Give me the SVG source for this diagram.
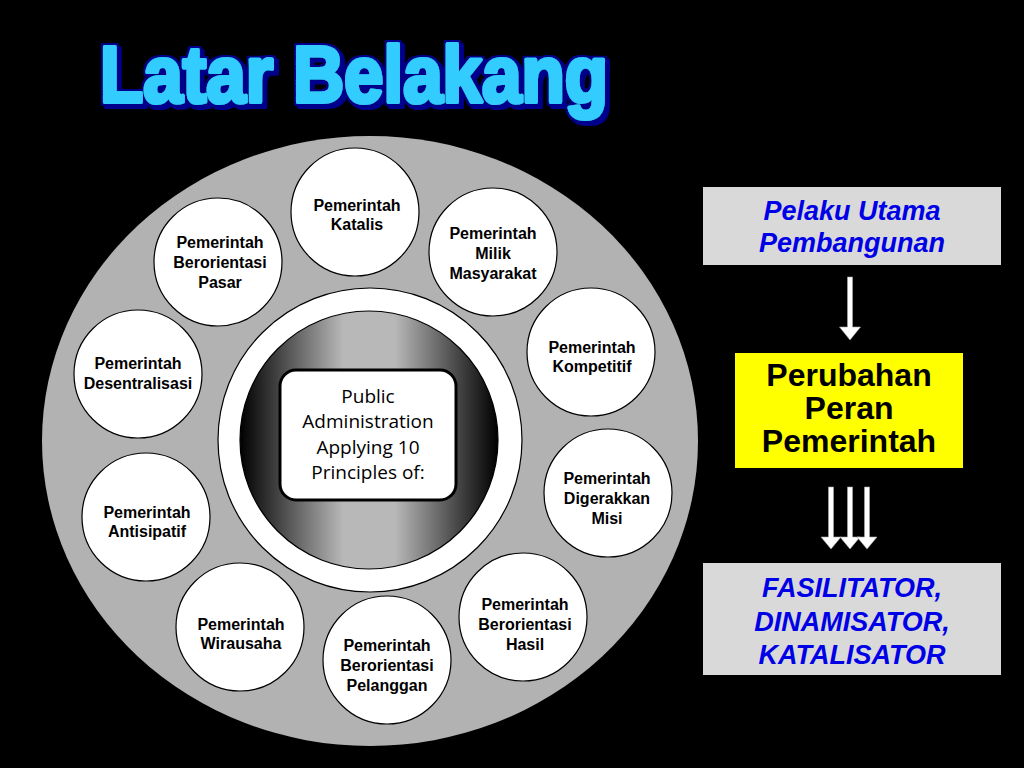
<svg xmlns="http://www.w3.org/2000/svg" width="1024" height="768" viewBox="0 0 1024 768">
<defs>
<linearGradient id="cyl" x1="0" y1="0" x2="1" y2="0">
<stop offset="0" stop-color="#000"/>
<stop offset="0.15" stop-color="#444"/>
<stop offset="0.4" stop-color="#b8b8b8"/>
<stop offset="0.6" stop-color="#b8b8b8"/>
<stop offset="0.85" stop-color="#444"/>
<stop offset="1" stop-color="#000"/>
</linearGradient>
<filter id="wordart" x="-5%" y="-20%" width="110%" height="150%">
<feMorphology in="SourceAlpha" operator="dilate" radius="2" result="dil"/>
<feFlood flood-color="#00008c" result="navy"/>
<feComposite in="navy" in2="dil" operator="in" result="outline"/>
<feOffset in="outline" dx="3" dy="3" result="shadow"/>
<feMerge>
<feMergeNode in="shadow"/>
<feMergeNode in="outline"/>
<feMergeNode in="SourceGraphic"/>
</feMerge>
</filter>
<style>
.node circle{fill:#fff;stroke:#000;stroke-width:1.2}
.nt{font-family:"Liberation Sans",Arial,sans-serif;font-weight:bold;font-size:16px;fill:#000;text-anchor:middle}
.ct{font-family:"Open Sans","DejaVu Sans",sans-serif;font-size:19px;fill:#000;text-anchor:middle}
.bt{font-family:"Liberation Sans",Arial,sans-serif;font-weight:bold;font-style:italic;font-size:27px;fill:#0000e6;text-anchor:middle}
.yt{font-family:"Liberation Sans",Arial,sans-serif;font-weight:bold;font-size:32px;fill:#000;text-anchor:middle}
.arr{fill:#fff;stroke:#aaa;stroke-width:0.6}
.ttl{font-family:"Liberation Sans",Arial,sans-serif;font-weight:bold;font-size:80px;fill:#33ccff;stroke:#33ccff;stroke-width:4;stroke-linejoin:round}
</style>
</defs>
<rect width="1024" height="768" fill="#000"/>

<g id="title" filter="url(#wordart)">
<text class="ttl" x="100" y="102" textLength="508" lengthAdjust="spacingAndGlyphs">Latar Belakang</text>
</g>

<g id="ring">
<ellipse cx="370" cy="441" rx="328" ry="305" fill="#b2b2b2"/>
<circle cx="370" cy="440" r="152" fill="#fff" stroke="#000" stroke-width="1.2"/>
<circle cx="369" cy="440" r="129" fill="url(#cyl)" stroke="#000" stroke-width="1.2"/>
</g>

<g id="center">
<rect x="280" y="370" width="176" height="130" rx="16" fill="#fff" stroke="#000" stroke-width="3"/>
<text class="ct" x="368" y="403">Public</text>
<text class="ct" x="368" y="428">Administration</text>
<text class="ct" x="368" y="454">Applying 10</text>
<text class="ct" x="368" y="479">Principles of:</text>
</g>

<g id="n-katalis" class="node"><circle cx="355" cy="212" r="64"/>
<text class="nt" x="357" y="211">Pemerintah</text><text class="nt" x="357" y="230">Katalis</text></g>
<g id="n-milik" class="node"><circle cx="493" cy="252" r="64"/>
<text class="nt" x="493" y="239">Pemerintah</text><text class="nt" x="493" y="259">Milik</text><text class="nt" x="493" y="279">Masyarakat</text></g>
<g id="n-kompetitif" class="node"><circle cx="591" cy="352" r="64"/>
<text class="nt" x="592" y="353">Pemerintah</text><text class="nt" x="592" y="372">Kompetitif</text></g>
<g id="n-misi" class="node"><circle cx="608" cy="493" r="64"/>
<text class="nt" x="607" y="484">Pemerintah</text><text class="nt" x="607" y="504">Digerakkan</text><text class="nt" x="607" y="524">Misi</text></g>
<g id="n-hasil" class="node"><circle cx="523" cy="617" r="64"/>
<text class="nt" x="525" y="610">Pemerintah</text><text class="nt" x="525" y="630">Berorientasi</text><text class="nt" x="525" y="650">Hasil</text></g>
<g id="n-pelanggan" class="node"><circle cx="387" cy="660" r="64"/>
<text class="nt" x="387" y="651">Pemerintah</text><text class="nt" x="387" y="671">Berorientasi</text><text class="nt" x="387" y="691">Pelanggan</text></g>
<g id="n-wirausaha" class="node"><circle cx="240" cy="627" r="64"/>
<text class="nt" x="241" y="630">Pemerintah</text><text class="nt" x="241" y="649">Wirausaha</text></g>
<g id="n-antisipatif" class="node"><circle cx="146" cy="517" r="64"/>
<text class="nt" x="147" y="518">Pemerintah</text><text class="nt" x="147" y="537">Antisipatif</text></g>
<g id="n-desentralisasi" class="node"><circle cx="138" cy="374" r="64"/>
<text class="nt" x="138" y="369">Pemerintah</text><text class="nt" x="138" y="389">Desentralisasi</text></g>
<g id="n-pasar" class="node"><circle cx="218" cy="262" r="64"/>
<text class="nt" x="220" y="248">Pemerintah</text><text class="nt" x="220" y="268">Berorientasi</text><text class="nt" x="220" y="288">Pasar</text></g>

<g id="b-pelaku">
<rect x="703" y="187" width="298" height="78" fill="#d9d9d9"/>
<text class="bt" x="852" y="220">Pelaku Utama</text>
<text class="bt" x="852" y="252">Pembangunan</text>
</g>
<g id="b-perubahan">
<rect x="735" y="353" width="228" height="115" fill="#ffff00"/>
<text class="yt" x="849" y="386">Perubahan</text>
<text class="yt" x="849" y="419">Peran</text>
<text class="yt" x="849" y="452">Pemerintah</text>
</g>
<g id="b-fasilitator">
<rect x="703" y="563" width="298" height="112" fill="#d9d9d9"/>
<text class="bt" x="852" y="597">FASILITATOR,</text>
<text class="bt" x="852" y="631">DINAMISATOR,</text>
<text class="bt" x="852" y="664">KATALISATOR</text>
</g>

<g id="connectors">
<polygon class="arr" points="847.5,277 852.5,277 852.5,327 860.5,327 850,340 839.5,327 847.5,327"/>
<polygon class="arr" points="828.5,487 833.5,487 833.5,537 841,537 831,549 821,537 828.5,537"/>
<polygon class="arr" points="847.5,487 852.5,487 852.5,537 860,537 850,549 840,537 847.5,537"/>
<polygon class="arr" points="864.5,487 869.5,487 869.5,537 877,537 867,549 857,537 864.5,537"/>
</g>
</svg>
